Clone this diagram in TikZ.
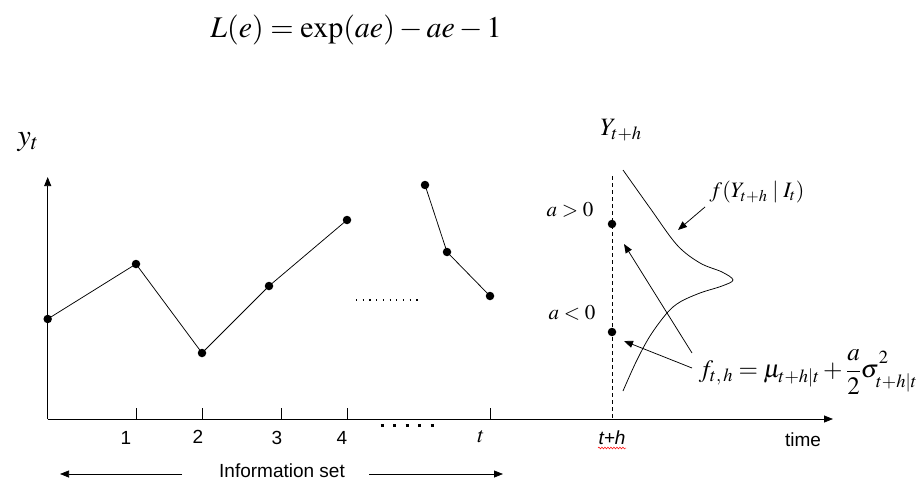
\documentclass[tikz,border=0pt]{standalone}
\usepackage{mathptmx}
\usepackage{fontspec}
\setmainfont{Liberation Serif}
\setsansfont{Liberation Sans}
\usetikzlibrary{arrows.meta,decorations.pathmorphing}
\begin{document}
\begin{tikzpicture}[x=1pt,y=-1pt, line width=0.75pt,
  dot/.style={circle,fill,inner sep=0pt,minimum size=8.5pt},
  lab/.style={font=\sffamily\fontsize{19}{22}\selectfont, inner sep=0pt},
  mth/.style={inner sep=0pt},
  tip/.style={-{Triangle[length=9pt,width=7pt]}},
  axtip/.style={-{Triangle[length=9pt,width=7pt]}}]
\useasboundingbox (0,0) rectangle (924,495);

% title formula
\node[mth,font=\fontsize{30}{34}\selectfont] (title) at (356,30) {$L(e)=\exp(ae)-ae-1$};

% axes
\coordinate (O) at (47.7,419);
\coordinate (ytop) at (47.7,177);
\coordinate (xend) at (833,419);
\draw[axtip] (O) -- (ytop);
\draw[axtip] (O) -- (xend);
\node[mth,font=\fontsize{30}{34}\selectfont] (ylab) at (28,142) {$y_t$};

% ticks
\foreach \n/\x in {t1/136,t2/202,t3/281,t4/347,tt/490}{
  \coordinate (\n) at (\x,419);
  \draw (\n) -- ++(0,-11);
}
\node[lab] (l1) at (126,438) {1};
\node[lab] (l2) at (198,437) {2};
\node[lab] (l3) at (277,438) {3};
\node[lab] (l4) at (342,438) {4};
\node[mth,font=\fontsize{22}{26}\selectfont] (lt) at (481,437) {$t$};

% series
\node[dot] (p0) at (47.7,319) {};
\node[dot] (p1) at (136,264) {};
\node[dot] (p2) at (202,353) {};
\node[dot] (p3) at (269,286) {};
\node[dot] (p4) at (347,220) {};
\node[dot] (p5) at (425,185) {};
\node[dot] (p6) at (447,252) {};
\node[dot] (p7) at (490,296) {};
\draw (p0.center) -- (p1.center) -- (p2.center) -- (p3.center) -- (p4.center);
\draw (p5.center) -- (p6.center) -- (p7.center);

% dotted gaps
\coordinate (d1) at (356,300);
\coordinate (d2) at (420,300);
\draw[line width=1.2pt, dash pattern=on 1.2pt off 5.5pt] (d1) -- (d2);
\coordinate (e1) at (380.5,425);
\coordinate (e2) at (434,425);
\draw[line width=3pt, dash pattern=on 3pt off 9.5pt] (e1) -- (e2);

% information set
\node[lab] (info) at (282,471) {Information set};
\coordinate (ia) at (182,474);
\coordinate (ib) at (60,474);
\coordinate (ic) at (369,474);
\coordinate (id) at (503,474);
\draw[tip] (ia) -- (ib);
\draw[tip] (ic) -- (id);

% forecast part
\node[mth,font=\fontsize{25}{30}\selectfont] (Ylab) at (621,130) {$Y_{t+h}$};
\coordinate (vtop) at (612,176);
\coordinate (vbot) at (612,419);
\draw[dash pattern=on 4pt off 3pt] (vtop) -- (vbot);
\node[dot] (qa) at (612,224) {};
\node[dot] (qb) at (612,332) {};
\node[mth,font=\fontsize{21}{25}\selectfont] (apos) at (570,210) {$a>0$};
\node[mth,font=\fontsize{21}{25}\selectfont] (aneg) at (572,313) {$a<0$};

% density
\draw plot[smooth, tension=0.55] coordinates {(623,170) (650,208) (677,245) (700,263) (722,272) (733,280) (722,286) (700,293) (680,302) (667,313) (650,336) (636,362) (623,391)};

\node[mth,font=\fontsize{22}{26}\selectfont] (fden) at (757,192) {$f(Y_{t+h}\mid I_t)$};
\coordinate (fa) at (705,207);
\coordinate (fb) at (678,230);
\draw[tip] (fa) -- (fb);

\node[mth,font=\fontsize{25}{30}\selectfont] (fth) at (808,372) {$\displaystyle f_{t,\,h}=\mu_{t+h|t}+\frac{a}{2}\sigma^{\raisebox{3pt}{$\scriptstyle 2$}}_{\raisebox{-4pt}{$\scriptstyle t+h|t$}}$};
\coordinate (ga) at (692,353);
\coordinate (gb) at (624,244);
\coordinate (ha) at (692,368);
\coordinate (hb) at (624,341);
\draw[tip] (ga) -- (gb);
\draw[tip] (ha) -- (hb);

\node[lab,font=\sffamily\itshape\fontsize{19}{22}\selectfont] (th) at (612,438) {t+h};
\coordinate (s1) at (598,448);
\coordinate (s2) at (626,448);
\draw[red, line width=0.5pt, decorate, decoration={snake, amplitude=0.9pt, segment length=3pt}] (s1) -- (s2);
\node[lab] (time) at (803,440) {time};
\end{tikzpicture}
\end{document}
